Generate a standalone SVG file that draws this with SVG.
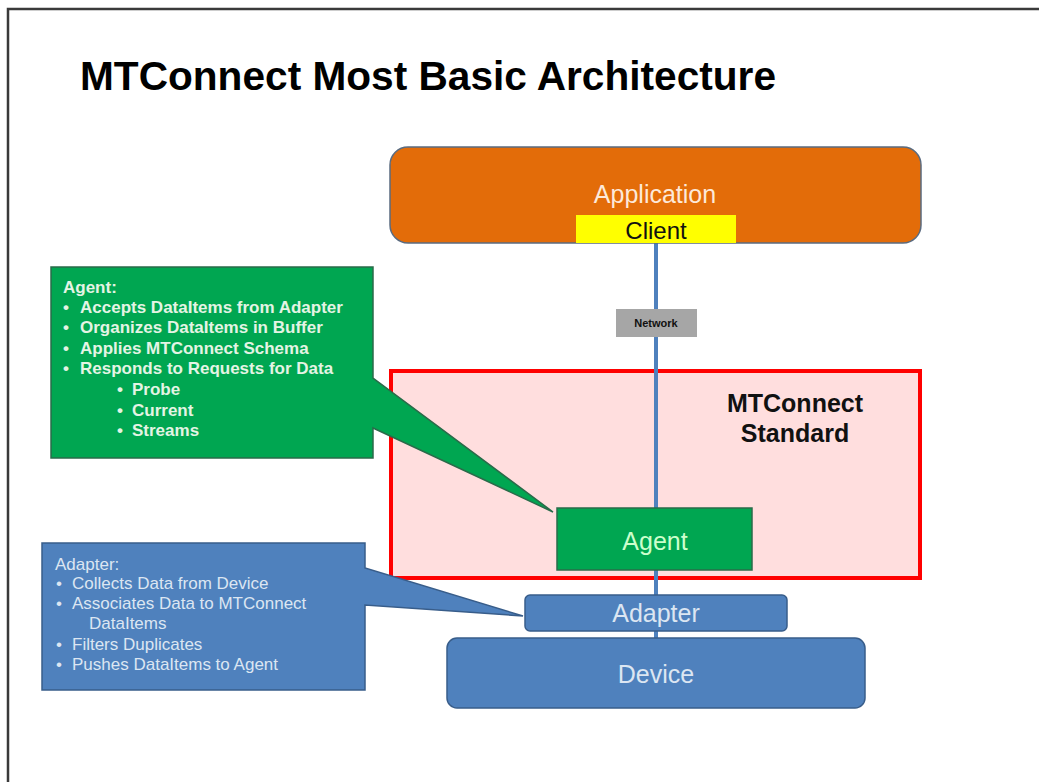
<svg xmlns="http://www.w3.org/2000/svg" width="1039" height="782" viewBox="0 0 1039 782">
<style>
.sans{font-family:"Liberation Sans",Arial,sans-serif}
.b{font-weight:bold}
.ctr{text-anchor:middle}
.cg{fill:#E4F4E4;font-size:17px;font-weight:bold;font-family:"Liberation Sans",Arial,sans-serif}
.cb{fill:#DCE6F2;font-size:17px;font-family:"Liberation Sans",Arial,sans-serif}
.blue{fill:#4F81BD;stroke:#385D8A;stroke-width:1.5}
.green{fill:#00A651;stroke:#2A6B4A;stroke-width:1.5}
</style>
<rect width="1039" height="782" fill="#FFFFFF"/>
<path d="M8,782 V9 H1039" fill="none" stroke="#3A3A3A" stroke-width="2.5"/>

<g id="title">
<text x="80" y="90" class="sans b" font-size="40" fill="#000000" textLength="696" lengthAdjust="spacingAndGlyphs">MTConnect Most Basic Architecture</text>
</g>

<g id="node-standard">
<rect x="391" y="371" width="529" height="207" fill="#FFDEDE" stroke="#FF0000" stroke-width="4"/>
<text x="795" y="412" class="sans b ctr" font-size="25" fill="#111111">MTConnect</text>
<text x="795" y="442" class="sans b ctr" font-size="25" fill="#111111">Standard</text>
</g>

<g id="connectors">
<line x1="656" y1="243" x2="656" y2="638" stroke="#4F81BD" stroke-width="4"/>
</g>

<g id="node-application">
<rect x="390" y="147" width="531" height="96" rx="18" fill="#E36C09" stroke="#5A6B80" stroke-width="1.5"/>
<text x="655" y="203" class="sans ctr" font-size="25" fill="#FDE9D9">Application</text>
</g>

<g id="node-client">
<rect x="576" y="215" width="160" height="28" fill="#FFFF00"/>
<text x="656" y="239" class="sans ctr" font-size="24" fill="#111111">Client</text>
</g>

<g id="node-network">
<rect x="616" y="309" width="81" height="28" fill="#A6A6A6"/>
<text x="656" y="327" class="sans b ctr" font-size="11" fill="#111111">Network</text>
</g>

<g id="node-agent">
<rect x="557" y="508" width="195" height="62" class="green"/>
<text x="655" y="550" class="sans ctr" font-size="25" fill="#CCFFCC">Agent</text>
</g>

<g id="node-device">
<rect x="447" y="638" width="418" height="70" rx="10" class="blue"/>
<text x="656" y="683" class="sans ctr" font-size="25" fill="#DCE6F2">Device</text>
</g>

<g id="node-adapter">
<rect x="525" y="595" width="262" height="36" rx="5" class="blue"/>
<text x="656" y="622" class="sans ctr" font-size="25" fill="#DCE6F2">Adapter</text>
</g>

<g id="node-agent-callout">
<path d="M51,267 H373 V378 L553,512 L373,428 V458 H51 Z" class="green"/>
<text class="cg" x="63" y="293">Agent:</text>
<text class="cg" x="63" y="313">•</text><text class="cg" x="80" y="313">Accepts DataItems from Adapter</text>
<text class="cg" x="63" y="333">•</text><text class="cg" x="80" y="333">Organizes DataItems in Buffer</text>
<text class="cg" x="63" y="354">•</text><text class="cg" x="80" y="354">Applies MTConnect Schema</text>
<text class="cg" x="63" y="374">•</text><text class="cg" x="80" y="374">Responds to Requests for Data</text>
<text class="cg" x="117" y="395">•</text><text class="cg" x="132" y="395">Probe</text>
<text class="cg" x="117" y="416">•</text><text class="cg" x="132" y="416">Current</text>
<text class="cg" x="117" y="436">•</text><text class="cg" x="132" y="436">Streams</text>
</g>

<g id="node-adapter-callout">
<path d="M42,543 H365 V568 L523,616 L365,605 V690 H42 Z" class="blue"/>
<text class="cb" x="55" y="570">Adapter:</text>
<text class="cb" x="56" y="589">•</text><text class="cb" x="72" y="589">Collects Data from Device</text>
<text class="cb" x="56" y="609">•</text><text class="cb" x="72" y="609">Associates Data to MTConnect</text>
<text class="cb" x="89" y="629">DataItems</text>
<text class="cb" x="56" y="650">•</text><text class="cb" x="72" y="650">Filters Duplicates</text>
<text class="cb" x="56" y="670">•</text><text class="cb" x="72" y="670">Pushes DataItems to Agent</text>
</g>
</svg>
